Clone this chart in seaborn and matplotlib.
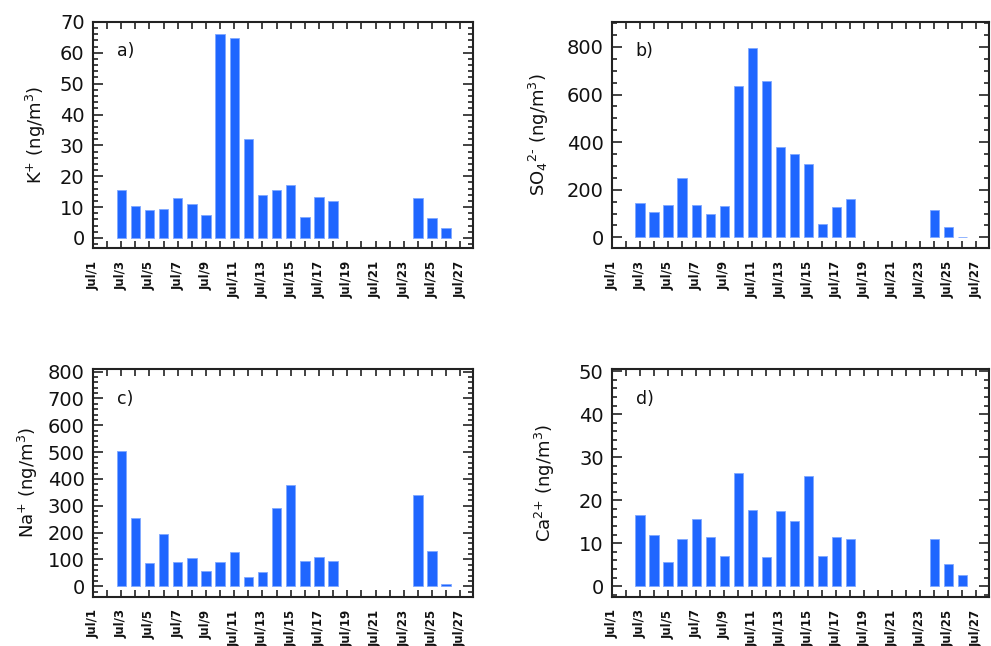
import matplotlib
matplotlib.use("Agg")
import matplotlib.pyplot as plt
import seaborn as sns
import pandas as pd
from matplotlib.ticker import MultipleLocator

sns.set_theme(style="white")
plt.rcParams['font.family'] = ['DejaVu Sans']
plt.rcParams['text.color'] = '#111111'
plt.rcParams['axes.labelcolor'] = '#111111'
plt.rcParams['xtick.color'] = '#111111'
plt.rcParams['ytick.color'] = '#111111'

days = [3, 4, 5, 6, 7, 8, 9, 10, 11, 12, 13, 14, 15, 16, 17, 18, 24, 25, 26]
k_vals = [15.5, 10.3, 9.0, 9.5, 12.8, 11.0, 7.5, 66.0, 64.8, 32.0, 14.0, 15.6, 17.3, 6.8, 13.3, 12.0, 12.8, 6.5, 3.3]
so4_vals = [145, 105, 135, 248, 135, 100, 130, 638, 795, 658, 380, 352, 308, 58, 128, 162, 115, 42, 3]
na_vals = [505, 254, 87, 195, 89, 105, 56, 89, 126, 35, 52, 293, 377, 95, 109, 95, 340, 133, 10]
ca_vals = [16.6, 11.9, 5.7, 10.9, 15.7, 11.4, 7.0, 26.4, 17.8, 6.9, 17.4, 15.1, 25.6, 7.1, 11.5, 10.9, 11.0, 5.2, 2.5]

tick_days = list(range(1, 28, 2))
tick_labels = [f"Jul/{d}" for d in tick_days]

panels = [
    ("a)", k_vals, "K$^{+}$ (ng/m$^{3}$)", (-3.3, 70), 10, 2, [0.0938, 0.616, 0.3835, 0.350], -0.119),
    ("b)", so4_vals, "SO$_4$$^{2\\text{-}}$ (ng/m$^{3}$)", (-45, 905), 200, 50, [0.6176, 0.616, 0.3804, 0.350], -0.162),
    ("c)", na_vals, "Na$^{+}$ (ng/m$^{3}$)", (-40, 810), 100, 20, [0.0938, 0.0759, 0.3835, 0.353], -0.140),
    ("d)", ca_vals, "Ca$^{2{+}}$ (ng/m$^{3}$)", (-2.5, 50.5), 10, 2, [0.6176, 0.0759, 0.3804, 0.353], -0.146),
]

color = "#1f66ff"
fig = plt.figure(figsize=(9.91, 6.46), dpi=100)

for tag, vals, ylabel, ylim, major, minor, rect, lx in panels:
    ax = fig.add_axes(rect)
    df = pd.DataFrame({"day": days, "value": vals})
    sns.barplot(data=df, x="day", y="value", native_scale=True, width=0.66,
                color=color, saturation=1, errorbar=None, ax=ax,
                edgecolor="#7fa8ff", linewidth=0.6)
    ax.set_xlim(1, 27.9)
    ax.set_xticks(tick_days)
    ax.set_xticklabels(tick_labels, rotation=90, fontsize=8.5, fontweight="semibold")
    ax.xaxis.set_minor_locator(MultipleLocator(1))
    ax.yaxis.set_major_locator(MultipleLocator(major))
    ax.yaxis.set_minor_locator(MultipleLocator(minor))
    ax.set_ylim(*ylim)
    ax.tick_params(axis="both", which="both", direction="in", top=True, right=True,
                   bottom=True, left=True, color="#222222", width=1.2)
    ax.tick_params(axis="y", which="major", length=7, labelsize=14, pad=6)
    ax.tick_params(axis="y", which="minor", length=3.5)
    ax.tick_params(axis="x", which="both", length=5, pad=9)
    ax.set_xlabel("")
    ax.set_ylabel(ylabel, fontsize=13)
    ax.yaxis.set_label_coords(lx, 0.5)
    for sp in ax.spines.values():
        sp.set_color("#222222")
        sp.set_linewidth(1.5)
    ax.text(0.063, 0.87, tag, transform=ax.transAxes, fontsize=12.5, va="center")

fig.savefig("out.png", dpi=100)
